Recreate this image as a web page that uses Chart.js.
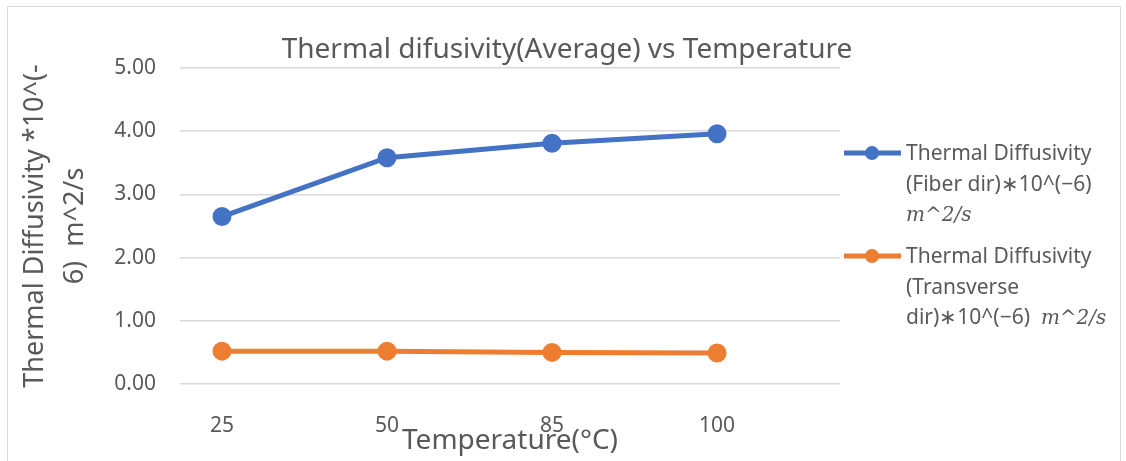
<!DOCTYPE html>
<html>
<head>
<meta charset="utf-8">
<script src="https://cdn.jsdelivr.net/npm/chart.js@4/dist/chart.umd.min.js"></script>
<style>
  body { margin: 0; background: #fff; }
  #wrap { position: relative; width: 1126px; height: 461px; overflow: hidden; }
  #frame { position: absolute; left: 7px; top: 6px; width: 1112px; height: 470px; border: 1px solid #d9d9d9; }
  #title { position: absolute; left: 0; width: 1134px; top: 28px; text-align: center;
           font: 28px "Noto Sans", sans-serif; color: #595959; }
  .leg { position: absolute; left: 843px; font: 21px "Noto Sans", sans-serif; color: #595959; }
  .leg .txt { position: absolute; left: 63px; top: 0; white-space: nowrap; line-height: 30.5px; }
  .leg svg { position: absolute; left: 0; top: 0; }
  .m { font-family: "DejaVu Serif", serif; font-style: italic; font-size: 20px; }
</style>
</head>
<body>
<div id="wrap">
  <div id="frame"></div>
  <canvas id="chart" width="1126" height="461"></canvas>
  <div id="title">Thermal difusivity(Average) vs Temperature</div>
  <div id="legend"></div>
</div>
<script>
// data
const temperatures = ['25', '50', '85', '100'];
const fiberDir = [2.65, 3.58, 3.81, 3.96];
const transverseDir = [0.52, 0.52, 0.50, 0.49];
const yTicks = [0, 1, 2, 3, 4, 5];

const blue = '#4472C4';
const orange = '#ED7D31';
const grey = '#595959';

const seriesLabels = ['Thermal Diffusivity (Fiber dir)*10^(-6) m^2/s',
                      'Thermal Diffusivity (Transverse dir)*10^(-6) m^2/s'];
const legendLines = [
    ['Thermal Diffusivity', '(Fiber dir)\u221710^(\u22126)', '<span class="m">m^2/s</span>'],
    ['Thermal Diffusivity', '(Transverse', 'dir)\u221710^(\u22126)&nbsp; <span class="m">m^2/s</span>']
];
const legendTop = [137, 240];

function points(values) {
    return values.map((v, i) => ({ x: i, y: v }));
}

const ctx = document.getElementById('chart').getContext('2d');
const chart = new Chart(ctx, {
    type: 'line',
    data: {
        datasets: [{
            label: seriesLabels[0],
            data: points(fiberDir),
            borderColor: blue,
            backgroundColor: blue,
            borderWidth: 5,
            pointRadius: 7,
            pointHoverRadius: 7,
            tension: 0,
            fill: false
        }, {
            label: seriesLabels[1],
            data: points(transverseDir),
            borderColor: orange,
            backgroundColor: orange,
            borderWidth: 5,
            pointRadius: 7,
            pointHoverRadius: 7,
            tension: 0,
            fill: false
        }]
    },
    options: {
        responsive: false,
        animation: false,
        layout: { padding: { left: 0, right: 286, top: 68, bottom: 0 } },
        plugins: {
            legend: { display: false },
            title: { display: false },
            tooltip: { enabled: false }
        },
        scales: {
            x: {
                type: 'linear',
                min: -0.2545,
                max: 3.745,
                afterBuildTicks: function(scale) {
                    scale.ticks = temperatures.map((t, i) => ({ value: i }));
                },
                afterFit: function(scale) { scale.height = 77; },
                grid: { display: false },
                border: { display: false },
                ticks: {
                    padding: 21,
                    color: grey,
                    font: { family: 'Noto Sans', size: 21 },
                    callback: function(value) { return temperatures[value]; }
                },
                title: {
                    display: true,
                    text: 'Temperature(°C)',
                    color: grey,
                    font: { family: 'Noto Sans', size: 28, lineHeight: 1.2 },
                    padding: { top: 0, bottom: 3 }
                }
            },
            y: {
                min: 0,
                max: 5,
                afterBuildTicks: function(scale) {
                    scale.ticks = yTicks.map(v => ({ value: v }));
                },
                afterFit: function(scale) { scale.width = 180; },
                grid: { color: '#d9d9d9', lineWidth: 1.5, drawTicks: false },
                border: { display: false },
                ticks: {
                    padding: 24,
                    color: grey,
                    font: { family: 'Noto Sans', size: 21 },
                    callback: function(value) { return value.toFixed(2); }
                },
                title: {
                    display: true,
                    text: ['Thermal Diffusivity *10^(-', '6)  m^2/s'],
                    color: grey,
                    font: { family: 'Noto Sans', size: 27, lineHeight: '40px' },
                    padding: { top: 15, bottom: 0 }
                }
            }
        }
    }
});

// legenda dibuat dari dataset
const legend = document.getElementById('legend');
chart.data.datasets.forEach((ds, i) => {
    const item = document.createElement('div');
    item.className = 'leg';
    item.style.top = legendTop[i] + 'px';
    item.innerHTML =
        '<svg width="60" height="32"><line x1="1" y1="16" x2="58" y2="16" stroke="' + ds.borderColor +
        '" stroke-width="5"/><circle cx="29" cy="16" r="7" fill="' + ds.borderColor + '"/></svg>' +
        '<div class="txt">' + legendLines[i].join('<br>') + '</div>';
    legend.appendChild(item);
});
</script>
</body>
</html>
